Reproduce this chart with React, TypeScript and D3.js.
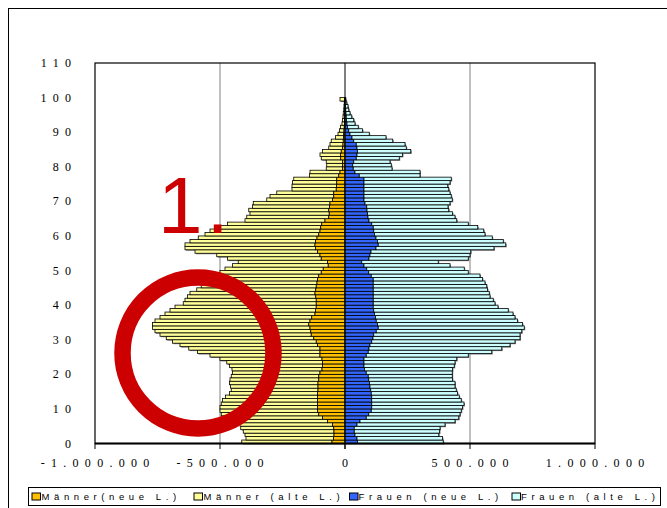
import React from 'react';
import * as d3 from 'd3';

const AGES = d3.range(0, 100);

// values in thousands, age 0..99
const MALE_NEUE = [52,46,44,44,45,50,70,90,105,110,
 110,110,110,110,110,108,108,108,105,105,
 100,92,90,90,92,100,100,100,110,115,
 125,135,137,140,145,140,133,120,118,115,
 115,115,117,120,117,115,112,110,105,95,
 87,67,70,95,100,110,118,120,118,112,
 105,100,97,93,80,65,63,65,62,60,
 50,45,45,35,34,33,33,25,20,10,
 10,10,17,18,15,10,8,7,6,5,
 4,3,2,2,1,1,1,0.5,0.3,2];

const MALE_ALTE = [361,350,356,363,372,370,395,395,390,390,
 390,385,380,368,352,347,350,354,355,350,
 350,360,372,383,408,440,490,525,550,575,
 590,605,623,630,625,620,607,600,582,565,
 532,525,513,500,476,460,448,430,415,405,
 393,383,357,375,413,490,522,520,502,475,
 455,440,416,377,320,328,317,320,308,307,
 263,255,228,177,178,177,172,117,120,65,
 63,65,78,82,75,55,52,48,32,23,
 18,15,10,8,7,6,4,3.5,2.7,18];

const FEMALE_NEUE = [50,48,40,37,37,48,60,85,95,105,
 107,107,107,107,105,103,100,98,95,93,
 85,78,76,76,76,85,93,96,100,107,
 112,115,125,133,130,125,122,118,115,113,
 113,113,113,113,113,113,113,113,105,95,
 87,76,67,96,100,104,124,133,130,124,
 118,115,113,107,96,92,90,88,87,80,
 76,76,76,76,76,76,76,57,40,33,
 31,35,45,48,50,48,45,35,28,20,
 15,10,8,6,5,4,3,2,1,0.5];

const FEMALE_ALTE = [343,342,335,341,343,352,380,370,365,360,
 363,369,358,350,345,342,340,342,335,336,
 344,352,361,364,371,408,494,531,560,573,
 588,585,582,584,580,565,558,554,538,499,
 487,480,467,464,457,454,447,437,435,398,
 390,344,306,397,400,399,472,510,503,465,
 442,440,418,386,351,348,340,327,325,340,
 353,349,344,339,335,344,349,243,260,155,
 154,145,172,182,213,197,195,156,136,77,
 55,43,32,29,22,16,12,10,6,2.5];

const X_TICKS = [-1000, -500, 0, 500, 1000];
const X_TICK_LABELS = ['-1.000.000', '-500.000', '0', '500.000', '1.000.000'];
const Y_TICKS = [0, 10, 20, 30, 40, 50, 60, 70, 80, 90, 100, 110];
const LEGEND_LABELS = ['Männer(neue L.)', 'Männer (alte L.)', 'Frauen (neue L.)', 'Frauen (alte L.)'];

const C_MN = '#FFC000';
const C_MA = '#FFFF99';
const C_FN = '#3366FF';
const C_FA = '#CCFFFF';
const LEGEND_COLORS = [C_MN, C_MA, C_FN, C_FA];

export default function App() {
  const W = 667, H = 508;
  const x = d3.scaleLinear().domain([-1000, 1000]).range([95, 595]);
  const y = d3.scaleLinear().domain([0, 110]).range([443.5, 63]);
  const LS = 6.3;

  const shadows: JSX.Element[] = [];
  const rects: JSX.Element[] = [];
  AGES.forEach((a, i) => {
    const y0 = y(a + 1), y1 = y(a);
    const h = y1 - y0;
    const mn = MALE_NEUE[i], ma = MALE_ALTE[i], fn = FEMALE_NEUE[i], fa = FEMALE_ALTE[i];
    const segs = [
      { x0: x(-mn - ma), x1: x(-mn), fill: C_MA },
      { x0: x(-mn), x1: x(0), fill: C_MN },
      { x0: x(0), x1: x(fn), fill: C_FN },
      { x0: x(fn), x1: x(fn + fa), fill: C_FA },
    ];
    shadows.push(<rect key={'sl' + a} x={x(-mn - ma) + 1} y={y0 + 1} width={x(0) - x(-mn - ma)} height={h} fill="#808080" />);
    shadows.push(<rect key={'sr' + a} x={x(0) + 1} y={y0 + 1} width={x(fn + fa) - x(0)} height={h} fill="#808080" />);
    segs.forEach((s, j) => {
      rects.push(<rect key={a + '-' + j} x={s.x0} y={y0} width={Math.max(0, s.x1 - s.x0)} height={h} fill={s.fill} stroke="#000" strokeWidth={0.8} />);
    });
  });

  const legendItems = [
    { sx: 32, tx: 41.5 },
    { sx: 194, tx: 203.5 },
    { sx: 349.5, tx: 358.5 },
    { sx: 512, tx: 521 },
  ];

  return (
    <svg width={W} height={H} style={{ position: 'absolute', left: 0, top: 0, background: '#fff' }}>
      <rect x={8.5} y={8.5} width={700} height={520} fill="#fff" stroke="#000" strokeWidth={1} />
      {[-500, 500].map(v => (
        <line key={'g' + v} x1={x(v)} x2={x(v)} y1={63} y2={443.5} stroke="#808080" strokeWidth={1} />
      ))}
      {shadows}
      {rects}
      <line x1={x(0)} x2={x(0)} y1={63} y2={449} stroke="#000" strokeWidth={1} />
      <rect x={x(-1000)} y={63} width={x(1000) - x(-1000)} height={443.5 - 63} fill="none" stroke="#000" strokeWidth={1.2} />
      <line x1={x(-1000)} x2={x(1000)} y1={443.5} y2={443.5} stroke="#000" strokeWidth={2} />
      {X_TICKS.map((v, i) => (
        <g key={'xt' + v}>
          <line x1={x(v)} x2={x(v)} y1={443.5} y2={449} stroke="#000" strokeWidth={1} />
          <text x={x(v) + LS / 2} y={467} textAnchor="middle" fontFamily="Liberation Serif" fontSize={12} letterSpacing={LS} fill="#000">{X_TICK_LABELS[i]}</text>
        </g>
      ))}
      {Y_TICKS.map(v => (
        <text key={'yt' + v} x={71 + LS} y={y(v) + 4} textAnchor="end" fontFamily="Liberation Serif" fontSize={12} letterSpacing={LS} fill="#000">{String(v)}</text>
      ))}
      <circle cx={198} cy={353} r={75.5} fill="none" stroke="#CC0000" strokeWidth={16.5} />
      <text x={158} y={233} fontFamily="Liberation Sans" fontSize={80} fill="#CC0000">1<tspan dx={4}>.</tspan></text>
      <rect x={28.5} y={487.5} width={632} height={18} fill="#fff" stroke="#000" strokeWidth={1} />
      {LEGEND_LABELS.map((lab, i) => (
        <g key={'lg' + i}>
          <rect x={legendItems[i].sx} y={493} width={8.5} height={7} fill={LEGEND_COLORS[i]} stroke="#000" strokeWidth={1} />
          <text x={legendItems[i].tx} y={500} fontFamily="Liberation Sans" fontSize={9.5} letterSpacing={4.6} fill="#000">{lab}</text>
        </g>
      ))}
    </svg>
  );
}
